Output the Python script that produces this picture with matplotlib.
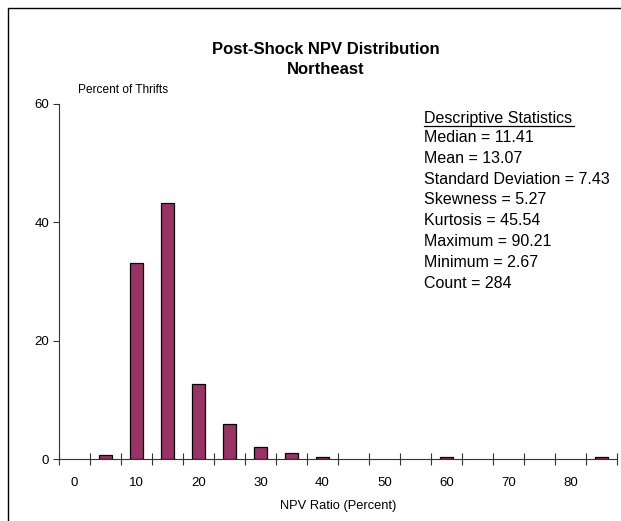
import matplotlib
matplotlib.use("Agg")
import matplotlib.pyplot as plt
from matplotlib.patches import Rectangle
import numpy as np

plt.rcParams['font.family'] = ['Liberation Sans', 'DejaVu Sans']

categories = [0, 5, 10, 15, 20, 25, 30, 35, 40, 45, 50, 55, 60, 65, 70, 75, 80, 85]
percents = [0.0, 0.70, 33.10, 43.31, 12.68, 5.99, 2.11, 1.06, 0.35, 0.0, 0.0, 0.0, 0.35, 0.0, 0.0, 0.0, 0.0, 0.35]
tick_labels = ['0', '10', '20', '30', '40', '50', '60', '70', '80']
yticks = [0, 20, 40, 60]
stats = ["Median = 11.41", "Mean = 13.07", "Standard Deviation = 7.43", "Skewness = 5.27",
         "Kurtosis = 45.54", "Maximum = 90.21", "Minimum = 2.67", "Count = 284"]

fig = plt.figure(figsize=(6.21, 5.21), dpi=100)
fig.patches.append(Rectangle((8/621, -0.1), 1.2, 1 - 8/521 + 0.1, transform=fig.transFigure,
                             fill=False, edgecolor='black', linewidth=1.0))

ax = fig.add_axes([59/621, 1 - 459/521, (617 - 59)/621, (459 - 104)/521])
idx = np.arange(len(categories))
vals = np.array(percents)
nz = vals > 0
ax.bar(idx[nz], vals[nz], width=0.43, color='#993366', edgecolor='black', linewidth=0.9, zorder=3)

ax.set_xlim(-0.5, len(categories) - 0.5)
ax.set_ylim(0, 60)
for s in ['top', 'right']:
    ax.spines[s].set_visible(False)
for s in ['left', 'bottom']:
    ax.spines[s].set_color('#333333')
    ax.spines[s].set_linewidth(0.8)

ax.set_xticks(np.arange(-0.5, len(categories)), labels=[])
ax.tick_params(axis='x', which='major', direction='inout', length=9, width=0.8, color='#333333')
ax.set_xticks(idx[::2], labels=tick_labels, minor=True)
ax.tick_params(axis='x', which='minor', length=0, labelsize=9.5, pad=13)
ax.set_yticks(yticks, labels=[str(v) for v in yticks])
ax.tick_params(axis='y', direction='out', length=4, width=0.8, color='#333333', labelsize=9.5, pad=3)

ax.set_xlabel('NPV Ratio (Percent)', fontsize=9.3, labelpad=8)

fig.text(326/621, 1 - 49/521, 'Post-Shock NPV Distribution', ha='center', va='center',
         fontsize=12, fontweight='bold')
fig.text(326/621, 1 - 70/521, 'Northeast', ha='center', va='center', fontsize=12, fontweight='bold')
fig.text(78/621, 1 - 90/521, 'Percent of Thrifts', ha='left', va='center', fontsize=8.6)

fig.text(424/621, 1 - 118/521, 'Descriptive Statistics', ha='left', va='center', fontsize=11.5)
fig.add_artist(plt.Line2D([424/621, 574/621], [1 - 126/521, 1 - 126/521], color='black', linewidth=0.9))
for i, s in enumerate(stats):
    fig.text(424/621, 1 - (137.5 + 20.8 * i)/521, s, ha='left', va='center', fontsize=11.5)

fig.savefig('out.png', dpi=100)
